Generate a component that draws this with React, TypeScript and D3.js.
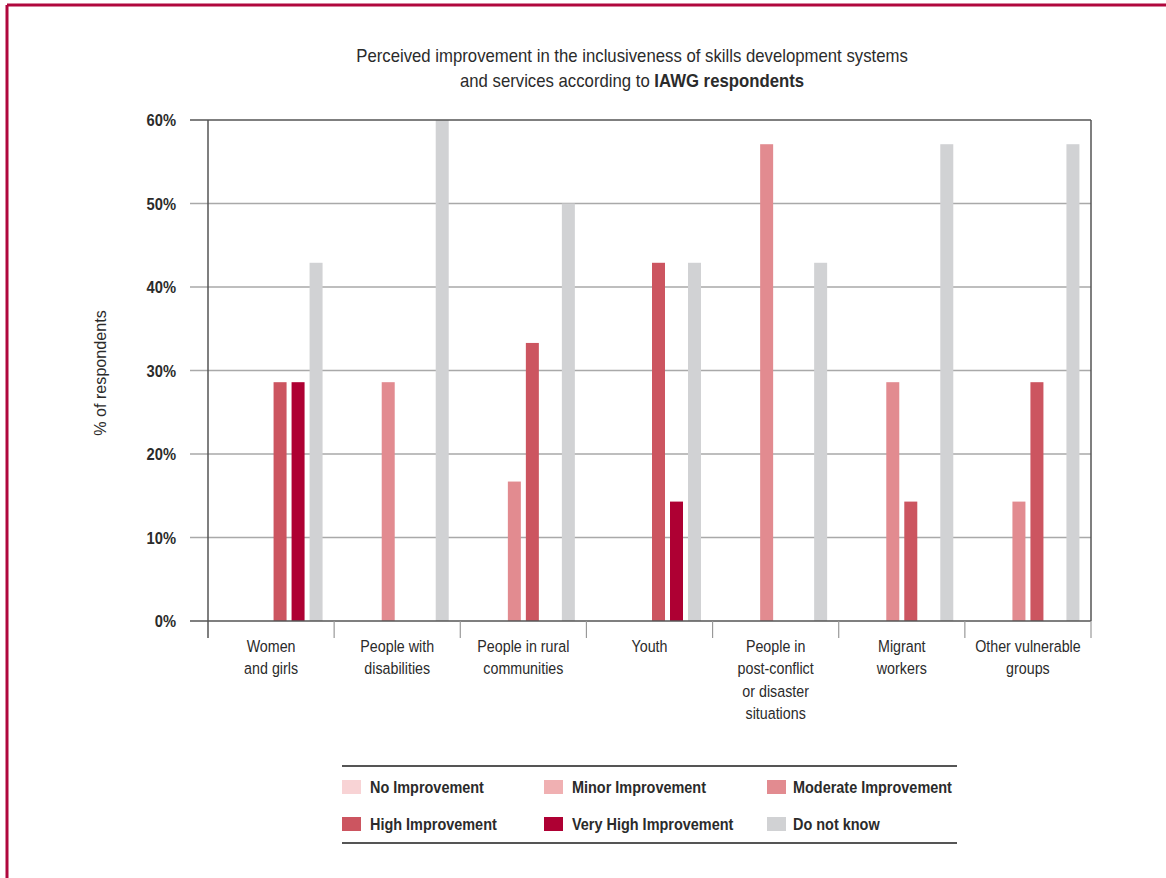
import React, { useEffect } from "react";
import * as d3 from "d3";

// Survey groups (x categories), with line breaks for the axis labels
const categories = [
  "Women and girls",
  "People with disabilities",
  "People in rural communities",
  "Youth",
  "People in post-conflict or disaster situations",
  "Migrant workers",
  "Other vulnerable groups",
];
const categoryLines = [
  ["Women", "and girls"],
  ["People with", "disabilities"],
  ["People in rural", "communities"],
  ["Youth"],
  ["People in", "post-conflict", "or disaster", "situations"],
  ["Migrant", "workers"],
  ["Other vulnerable", "groups"],
];

// Response levels (series)
const seriesNames = [
  "No Improvement",
  "Minor Improvement",
  "Moderate Improvement",
  "High Improvement",
  "Very High Improvement",
  "Do not know",
];
const seriesColors = ["#f8d3d5", "#f0b0b2", "#e28b90", "#cc5560", "#ae0033", "#d1d2d4"];

// Share of respondents (%) per group, one array per level
const noImprovement = [0, 0, 0, 0, 0, 0, 0];
const minorImprovement = [0, 0, 0, 0, 0, 0, 0];
const moderateImprovement = [0, 28.6, 16.7, 0, 57.1, 28.6, 14.3];
const highImprovement = [28.6, 0, 33.3, 42.9, 0, 14.3, 28.6];
const veryHighImprovement = [28.6, 0, 0, 14.3, 0, 0, 0];
const doNotKnow = [42.9, 71.4, 50.0, 42.9, 42.9, 57.1, 57.1];
const seriesValues = [
  noImprovement,
  minorImprovement,
  moderateImprovement,
  highImprovement,
  veryHighImprovement,
  doNotKnow,
];

const yTicks = [0, 10, 20, 30, 40, 50, 60];

const FONT = "'Liberation Sans', Arial, sans-serif";

// Text drawn with a horizontal squeeze, giving a condensed face
function T({
  x,
  y,
  sx = 1,
  rotate = 0,
  children,
  ...rest
}: {
  x: number;
  y: number;
  sx?: number;
  rotate?: number;
  children: React.ReactNode;
  [k: string]: any;
}) {
  return (
    <text transform={`translate(${x},${y}) rotate(${rotate}) scale(${sx},1)`} {...rest}>
      {children}
    </text>
  );
}

export default function App() {
  useEffect(() => {
    document.body.style.margin = "0";
  }, []);

  const W = 1166;
  const H = 878;
  const plot = { left: 208, right: 1091, top: 120, bottom: 621 };

  const x = d3.scaleBand<string>().domain(categories).range([plot.left, plot.right]).padding(0);
  const y = d3.scaleLinear().domain([0, 60]).range([plot.bottom, plot.top]);

  const barW = 13;
  const barStep = 18;
  const slotOffset = (i: number) => -((seriesNames.length * barStep - (barStep - barW)) / 2) + i * barStep;

  const legendCols = [
    { sx: 342, tx: 370 },
    { sx: 544, tx: 572 },
    { sx: 767, tx: 793 },
  ];
  const legendRows = [780, 817];
  const ink = "#2b2b2b";

  return (
    <svg
      width={W}
      height={H}
      style={{ position: "absolute", left: 0, top: 0, display: "block", background: "#fff" }}
      fontFamily={FONT}
    >
      <defs>
        <clipPath id="plot-clip">
          <rect x={plot.left} y={plot.top} width={plot.right - plot.left} height={plot.bottom - plot.top} />
        </clipPath>
      </defs>

      {/* page frame */}
      <line x1={7} y1={5} x2={W} y2={5} stroke="#b0073d" strokeWidth={3} />
      <line x1={7} y1={5} x2={7} y2={H} stroke="#b0073d" strokeWidth={3} />

      {/* title */}
      <T x={632} y={62} sx={0.93} textAnchor="middle" fontSize={18} fill={ink}>
        Perceived improvement in the inclusiveness of skills development systems
      </T>
      <T x={632} y={87} sx={0.93} textAnchor="middle" fontSize={18} fill={ink}>
        and services according to <tspan fontWeight="bold">IAWG respondents</tspan>
      </T>

      {/* gridlines and y ticks */}
      {yTicks.map((t) => (
        <g key={t}>
          {t > 0 && t < 60 && (
            <line x1={plot.left} x2={plot.right} y1={y(t)} y2={y(t)} stroke="#a9a9a9" strokeWidth={1.5} />
          )}
          <line
            x1={190}
            x2={plot.left}
            y1={y(t)}
            y2={y(t)}
            stroke={t === 60 || t === 0 ? "#555" : "#a9a9a9"}
            strokeWidth={1.5}
          />
          <T x={176} y={y(t) + 6} sx={0.92} textAnchor="end" fontSize={16} fontWeight="bold" fill={ink}>
            {t}%
          </T>
        </g>
      ))}

      {/* bars */}
      <g clipPath="url(#plot-clip)">
        {categories.map((c, ci) => {
          const cx = (x(c) as number) + x.bandwidth() / 2;
          return seriesValues.map((vals, si) =>
            vals[ci] > 0 ? (
              <rect
                key={`${ci}-${si}`}
                x={cx + slotOffset(si)}
                y={y(vals[ci])}
                width={barW}
                height={plot.bottom - y(vals[ci])}
                fill={seriesColors[si]}
              />
            ) : null
          );
        })}
      </g>

      {/* frame of the plot */}
      <line x1={plot.left} x2={plot.right} y1={plot.top} y2={plot.top} stroke="#555" strokeWidth={1.5} />
      <line x1={plot.right} x2={plot.right} y1={plot.top} y2={plot.bottom} stroke="#555" strokeWidth={1.5} />
      <line x1={plot.left} x2={plot.left} y1={plot.top} y2={638} stroke="#555" strokeWidth={1.5} />
      <line x1={plot.left} x2={plot.right} y1={plot.bottom} y2={plot.bottom} stroke="#555" strokeWidth={1.5} />

      {/* category separators */}
      {categories.map((c, ci) =>
        ci > 0 ? (
          <line
            key={c}
            x1={x(c) as number}
            x2={x(c) as number}
            y1={plot.bottom}
            y2={638}
            stroke="#999"
            strokeWidth={1.2}
          />
        ) : null
      )}
      <line x1={plot.right} x2={plot.right} y1={plot.bottom} y2={638} stroke="#999" strokeWidth={1.2} />

      {/* category labels */}
      {categories.map((c, ci) => {
        const cx = (x(c) as number) + x.bandwidth() / 2;
        return (
          <T key={c} x={cx} y={652} sx={0.84} textAnchor="middle" fontSize={17} fill={ink}>
            {categoryLines[ci].map((line, li) => (
              <tspan key={li} x={0} y={li * 22.4}>
                {line}
              </tspan>
            ))}
          </T>
        );
      })}

      {/* y axis title */}
      <T x={106} y={373} rotate={-90} sx={0.95} textAnchor="middle" fontSize={17} fill={ink}>
        % of respondents
      </T>

      {/* legend */}
      <line x1={342} x2={957} y1={766} y2={766} stroke="#555" strokeWidth={2} />
      <line x1={342} x2={957} y1={843} y2={843} stroke="#555" strokeWidth={2} />
      {seriesNames.map((name, i) => {
        const col = legendCols[i % 3];
        const ry = legendRows[Math.floor(i / 3)];
        return (
          <g key={name}>
            <rect x={col.sx} y={ry} width={19} height={14} fill={seriesColors[i]} />
            <T x={col.tx} y={ry + 13} sx={0.85} fontSize={17} fontWeight="bold" fill={ink}>
              {name}
            </T>
          </g>
        );
      })}
    </svg>
  );
}
